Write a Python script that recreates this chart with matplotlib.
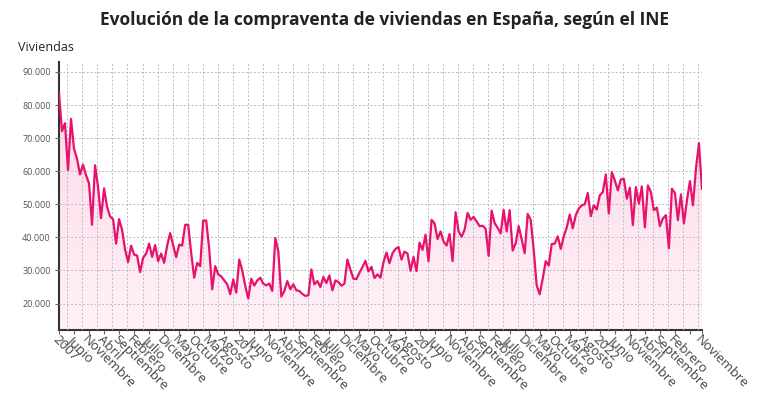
import numpy as np
import matplotlib
matplotlib.use("Agg")
import matplotlib.pyplot as plt
from matplotlib.ticker import FixedLocator, FuncFormatter
from matplotlib.colors import LinearSegmentedColormap

plt.rcParams['font.family'] = ['Open Sans', 'DejaVu Sans']

# monthly sales, Jan 2007 .. Nov 2024
viviendas = [
    83600, 72100, 74500, 60300, 75800, 66800, 63800, 59000, 62000, 58800, 56300, 43800,
    61800, 55300, 45800, 54800, 49300, 46300, 45500, 38100, 45500, 42300, 36300, 32500,
    37500, 34800, 34500, 29500, 33800, 35100, 38100, 34100, 37700, 32800, 35100, 32300,
    37500, 41300, 37700, 34000, 37800, 37500, 43800, 43800, 35300, 27800, 32300, 31300,
    45100, 45100, 36500, 24300, 31300, 28800, 28200, 27000, 25800, 22800, 27300, 23300,
    33300, 30000, 25300, 21500, 27500, 25400, 27000, 27800, 26000, 25500, 26000, 23800,
    39800, 35800, 22100, 23800, 26800, 24300, 25800, 24000, 23800, 22900, 22300, 22500,
    30300, 25800, 26800, 25000, 28000, 26200, 28500, 24000, 27000, 26500, 25400, 26000,
    33300, 30200, 27500, 27400, 29300, 31000, 32900, 29700, 31100, 27700, 28800, 27800,
    32500, 35400, 32200, 35200, 36500, 37100, 33300, 35700, 35100, 29900, 34100, 29800,
    38400, 36200, 40800, 32800, 45300, 44200, 39500, 41800, 38800, 37500, 41000, 32800,
    47600, 41800, 40200, 42300, 47400, 45300, 46200, 44800, 43400, 43500, 42600, 34400,
    48100, 44300, 42900, 41200, 48300, 41800, 48200, 36000, 38200, 43400, 39400, 35200,
    47100, 45300, 36300, 25500, 22800, 27500, 32800, 31500, 38000, 38100, 40300, 36500,
    40300, 43000, 46900, 42700, 46700, 48700, 49700, 50000, 53400, 46400, 49700, 48400,
    52700, 53700, 59000, 47200, 59700, 57200, 54200, 57500, 57700, 51700, 55000, 43700,
    55200, 50200, 55400, 43000, 55700, 53700, 48200, 49000, 43400, 45700, 46700, 36700,
    54700, 53400, 45200, 53000, 44200, 51200, 57000, 49700, 60700, 68500, 54700,
]

tick_labels = [
    '2007', 'Junio', 'Noviembre', 'Abril', 'Septiembre', 'Febrero', 'Julio', 'Diciembre',
    'Mayo', 'Octubre', 'Marzo', 'Agosto', '2012', 'Junio', 'Noviembre', 'Abril',
    'Septiembre', 'Febrero', 'Julio', 'Diciembre', 'Mayo', 'Octubre', 'Marzo', 'Agosto',
    '2017', 'Junio', 'Noviembre', 'Abril', 'Septiembre', 'Febrero', 'Julio', 'Diciembre',
    'Mayo', 'Octubre', 'Marzo', 'Agosto', '2022', 'Junio', 'Noviembre', 'Abril',
    'Septiembre', 'Febrero', 'Noviembre',
]

y_ticks = [20000, 30000, 40000, 50000, 60000, 70000, 80000, 90000]

x = np.arange(len(viviendas))
tick_pos = list(range(0, 206, 5)) + [len(viviendas) - 1]
tick_marks = list(range(0, 215, 5)) + [len(viviendas) - 1]

line_color = '#e6126d'

fig = plt.figure(figsize=(7.68, 4.0), dpi=100)
ax = fig.add_axes([0.0768, 0.175, 0.8372, 0.67])

ymin, ymax = 12000, 93000
ax.set_xlim(0, len(viviendas) - 1)
ax.set_ylim(ymin, ymax)

# gradient fill under the line
poly = ax.fill_between(x, viviendas, ymin, color='none', lw=0)
cmap = LinearSegmentedColormap.from_list('pk', ['#fff1f7', '#fcd9e9'])
grad = np.linspace(0, 1, 256).reshape(-1, 1)
im = ax.imshow(grad, cmap=cmap, aspect='auto', origin='lower',
               extent=[0, len(viviendas) - 1, ymin, max(viviendas)], zorder=1)
im.set_clip_path(poly.get_paths()[0], transform=ax.transData)

ax.plot(x, viviendas, color=line_color, lw=1.6, zorder=3, solid_joinstyle='round')

ax.yaxis.set_major_locator(FixedLocator(y_ticks))
ax.yaxis.set_major_formatter(FuncFormatter(lambda v, p: f'{int(v):,}'.replace(',', '.')))
ax.tick_params(axis='y', labelsize=6.5, labelcolor='#555555', length=3, color='#666666', pad=3)

ax.set_xticks(tick_marks)
ax.set_xticklabels([''] * len(tick_marks))
ax.tick_params(axis='x', length=3, color='#666666')
for pos, lab in zip(tick_pos, tick_labels):
    ax.text(pos, -0.012, lab, transform=ax.get_xaxis_transform(), rotation=-45,
            ha='left', va='top', rotation_mode='anchor', fontsize=9.5, color='#444444')

ax.xaxis.set_minor_locator(FixedLocator(np.arange(2.8, 215, 5)))
ax.grid(axis='x', which='minor', color='#bbbbbb', ls=(0, (2, 2)), lw=0.7, zorder=2)
ax.grid(axis='y', which='major', color='#bbbbbb', ls=(0, (2, 2)), lw=0.7, zorder=2)
ax.tick_params(axis='x', which='minor', length=0)
ax.set_axisbelow(False)

for s in ['top', 'right']:
    ax.spines[s].set_visible(False)
ax.spines['left'].set_color('#333333')
ax.spines['left'].set_linewidth(1.5)
ax.spines['bottom'].set_color('#333333')
ax.spines['bottom'].set_linewidth(1.5)

fig.text(0.5, 0.95, 'Evolución de la compraventa de viviendas en España, según el INE',
         ha='center', va='center', fontsize=12.5, fontweight='bold', color='#222222')
fig.text(0.023, 0.882, 'Viviendas', ha='left', va='center', fontsize=9, color='#222222')

fig.savefig('out.png', dpi=100)
